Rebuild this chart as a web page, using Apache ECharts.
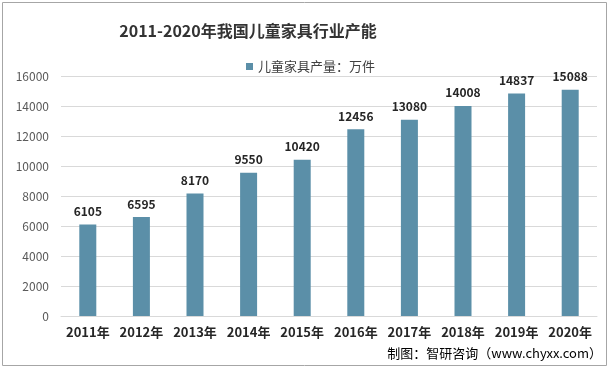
<!DOCTYPE html>
<html><head><meta charset="utf-8">
<script src="https://cdn.jsdelivr.net/npm/echarts@6/dist/echarts.min.js"></script>
<style>html,body{margin:0;padding:0;background:#fff;}#c{width:610px;height:370px;}</style>
</head><body><div id="c"></div>
<script>
const categories = ['2011年','2012年','2013年','2014年','2015年','2016年','2017年','2018年','2019年','2020年'];
const values = [6105, 6595, 8170, 9550, 10420, 12456, 13080, 14008, 14837, 15088];
const seriesName = '儿童家具产量：万件';
const titleText = '2011-2020年我国儿童家具行业产能';
const sourceText = '制图：智研咨询（www.chyxx.com）';
const yTicks = [0, 2000, 4000, 6000, 8000, 10000, 12000, 14000, 16000];

const chart = echarts.init(document.getElementById('c'));
const ff = '"Microsoft YaHei","Noto Sans CJK SC","Noto Sans",sans-serif';
chart.setOption({
  backgroundColor: '#fff',
  animation: false,
  graphic: [
    {type:'rect', shape:{x:2.5,y:2.5,width:604,height:363}, style:{fill:'none',stroke:'#a6a6a6',lineWidth:1}, silent:true},
    {type:'text', right:8, top:347, style:{text:sourceText, font:'13px '+ff, fill:'#000'}}
  ],
  title: {text:titleText, left:243, top:18, textAlign:'center',
    textStyle:{fontSize:16, fontWeight:'bold', color:'#333', fontFamily:ff}},
  legend: {top:55, left:241, itemWidth:7, itemHeight:7, itemGap:4, icon:'rect',
    textStyle:{fontSize:13, color:'#404040', fontFamily:ff}, data:[seriesName]},
  grid: {left:61, right:13, top:76, bottom:54},
  xAxis: {type:'category', data:categories,
    axisLine:{lineStyle:{color:'#d9d9d9'}}, axisTick:{show:false},
    axisLabel:{interval:0, fontSize:13, fontWeight:'bold', color:'#262626', fontFamily:ff, margin:10}},
  yAxis: {type:'value', min:yTicks[0], max:yTicks[yTicks.length-1], interval:2000,
    axisLine:{show:false}, axisTick:{show:false},
    splitLine:{lineStyle:{color:'#d9d9d9'}},
    axisLabel:{formatter:v=>String(v), fontSize:12, color:'#595959', fontFamily:ff, margin:12}},
  series: [{name:seriesName, type:'bar', data:values, barWidth:17,
    itemStyle:{color:'#5b8fa8'},
    label:{show:true, position:'top', fontSize:12, fontWeight:'bold', color:'#262626', fontFamily:ff, distance:7}}]
});
</script></body></html>
